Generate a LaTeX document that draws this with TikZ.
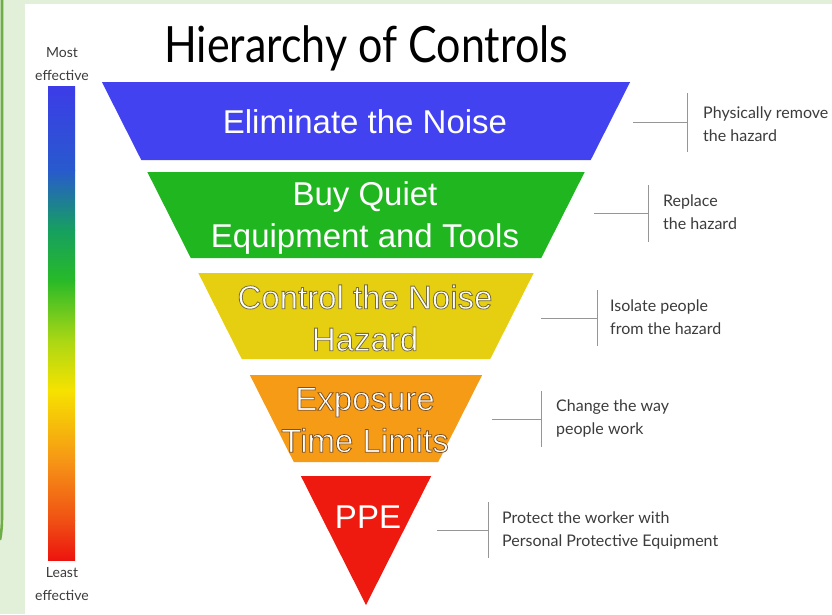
\documentclass[tikz,border=0pt]{standalone}
\usepackage{fontspec}
\setmainfont{Liberation Sans}
\newfontfamily\notefont{Lato}
\usetikzlibrary{calc}

\definecolor{framegreen}{HTML}{E2EFD9}
\definecolor{edgegreen}{HTML}{70AD47}
\definecolor{bandblue}{RGB}{66,66,240}
\definecolor{bandgreen}{RGB}{32,182,32}
\definecolor{bandyellow}{RGB}{230,206,16}
\definecolor{bandorange}{RGB}{245,155,22}
\definecolor{bandred}{RGB}{238,26,16}
\definecolor{notegray}{RGB}{60,60,60}
\definecolor{rulegray}{RGB}{150,150,150}
% scale bar stops, top to bottom
\definecolor{sb1}{RGB}{60,60,232}
\definecolor{sb2}{RGB}{40,90,205}
\definecolor{sb3}{RGB}{22,160,95}
\definecolor{sb4}{RGB}{40,186,40}
\definecolor{sb5}{RGB}{170,215,20}
\definecolor{sb6}{RGB}{246,226,0}
\definecolor{sb7}{RGB}{246,150,22}
\definecolor{sb8}{RGB}{240,80,20}
\definecolor{sb9}{RGB}{236,20,15}

% side slope of the inverted triangle and its apex
\def\k{0.505}
\def\ax{366}
\def\ay{605}

% one horizontal slice of the triangle between two heights
\newcommand\slice[3]{%
  \fill[#3] (\ax-\k*\ay+\k*#1,#1) -- (\ax+\k*\ay-\k*#1,#1)
        -- (\ax+\k*\ay-\k*#2,#2) -- (\ax-\k*\ay+\k*#2,#2) -- cycle;}

% white letters with a thin stroked rim (PDF text render mode 2)
\newcommand\rimon[1]{\special{pdf:literal direct #1 RG 0.8 w 2 Tr}}
\newcommand\rimoff{\special{pdf:literal direct 0 Tr}}

\begin{document}
\begin{tikzpicture}[x=1pt,y=-1pt,
  bandtext/.style={text=white, font=\fontsize{33}{42}\selectfont, align=center, inner sep=0},
  sidenote/.style={font=\notefont\fontsize{16}{23}\selectfont, text=notegray, align=left, anchor=west, inner sep=0},
  scalenote/.style={font=\notefont\fontsize{14}{23}\selectfont, text=notegray, align=center, inner sep=0},
  bracket/.style={draw=rulegray, line width=0.9pt},
]
\useasboundingbox (0,0) rectangle (832,614);

% page frame
\fill[framegreen] (0,0) rectangle (832,614);
\fill[white] (25,4) rectangle (832,614);
\draw[edgegreen, line width=2.6pt] (2,-2) -- (2,515) .. controls (2,526) and (1.5,532) .. (0,540);

% title
\node[font=\notefont\fontsize{50}{56}\selectfont, anchor=base west, inner sep=0] (title) at (164,62) {\scalebox{0.86}[1]{Hierarchy of Controls}};

% effectiveness scale
\shade[top color=sb1, bottom color=sb2] (48,86) rectangle (75,170.5);
\shade[top color=sb2, bottom color=sb3] (48,170) rectangle (75,230.5);
\shade[top color=sb3, bottom color=sb4] (48,230) rectangle (75,280.5);
\shade[top color=sb4, bottom color=sb5] (48,280) rectangle (75,340.5);
\shade[top color=sb5, bottom color=sb6] (48,340) rectangle (75,390.5);
\shade[top color=sb6, bottom color=sb7] (48,390) rectangle (75,460.5);
\shade[top color=sb7, bottom color=sb8] (48,460) rectangle (75,520.5);
\shade[top color=sb8, bottom color=sb9] (48,520) rectangle (75,560);
\node[scalenote] (most) at (62,64) {Most\\effective};
\node[scalenote] (least) at (62,584) {Least\\effective};

% the five levels
\slice{82}{160}{bandblue}
\slice{172}{258}{bandgreen}
\slice{273}{359}{bandyellow}
\slice{375}{462}{bandorange}
\slice{476}{605}{bandred}

\node[bandtext] (lvl1) at (365,122) {Eliminate the Noise};
\node[bandtext] (lvl2) at (365,218) {Buy Quiet\\Equipment and Tools};
\node[bandtext] (lvl3) at (365,318) {\rimon{0.47 0.43 0.24}Control the Noise\\\rimon{0.47 0.43 0.24}Hazard\rimoff};
\node[bandtext] (lvl4) at (365,420) {\rimon{0.5 0.32 0.12}Exposure\\\rimon{0.5 0.32 0.12}Time Limits\rimoff};
\node[bandtext] (lvl5) at (368,517) {PPE};

% side notes with their brackets
\coordinate (h1) at (633,122);  \coordinate (v1t) at (687,93);  \coordinate (v1b) at (687,152);
\coordinate (h2) at (594,213);  \coordinate (v2t) at (648,185); \coordinate (v2b) at (648,242);
\coordinate (h3) at (541,318);  \coordinate (v3t) at (597,290); \coordinate (v3b) at (597,346);
\coordinate (h4) at (492,419);  \coordinate (v4t) at (541,391); \coordinate (v4b) at (541,447);
\coordinate (h5) at (437,530);  \coordinate (v5t) at (488,502); \coordinate (v5b) at (488,558);

\foreach \i in {1,...,5}{
  \draw[bracket] (v\i t) -- (v\i b);
  \draw[bracket] (h\i) -- (h\i -| v\i t);
}

\node[sidenote] (n1) at (703,124) {Physically remove\\the hazard};
\node[sidenote] (n2) at (663,212) {Replace\\the hazard};
\node[sidenote] (n3) at (610,317) {Isolate people\\from the hazard};
\node[sidenote] (n4) at (556,418) {Change the way\\people work};
\node[sidenote] (n5) at (502,530) {Protect the worker with\\Personal Protective Equipment};
\end{tikzpicture}
\end{document}
